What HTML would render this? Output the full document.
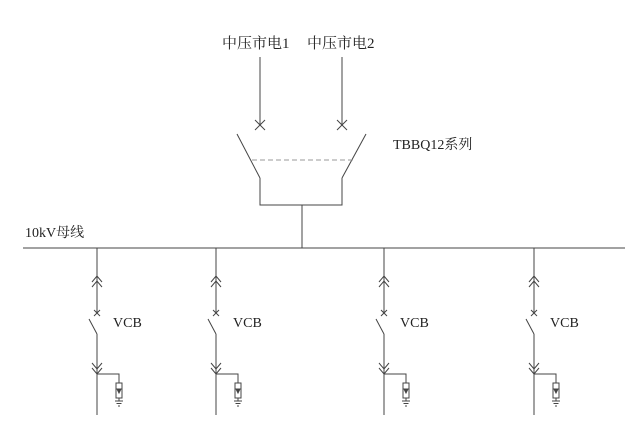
<!DOCTYPE html>
<html><head><meta charset="utf-8"><style>
html,body{margin:0;padding:0;background:#fff;width:640px;height:425px;overflow:hidden}
text{font-family:"Liberation Serif","Noto Serif CJK SC",serif;fill:#222}
</style></head><body>
<svg width="640" height="425" viewBox="0 0 640 425" xmlns="http://www.w3.org/2000/svg">
<defs>
<g id="f" stroke="#444" stroke-width="1" fill="none">
<line x1="0" y1="248" x2="0" y2="313"/>
<polyline points="-5,282 0,276 5,282"/>
<polyline points="-5,287 0,281 5,287"/>
<line x1="-3" y1="310" x2="3" y2="316"/>
<line x1="3" y1="310" x2="-3" y2="316"/>
<line x1="-8" y1="319" x2="0" y2="334"/>
<line x1="0" y1="334" x2="0" y2="415"/>
<polyline points="-5,363 0,369 5,363"/>
<polyline points="-5,368 0,374 5,368"/>
<polyline points="0,374 22,374 22,383"/>
<rect x="19" y="383" width="6" height="15"/>
<polygon points="20,389 24,389 22,393" fill="#444"/>
<line x1="22" y1="398" x2="22" y2="401"/>
<line x1="18" y1="401" x2="26" y2="401"/>
<line x1="19.5" y1="403.5" x2="24.5" y2="403.5"/>
<line x1="21" y1="406" x2="23" y2="406"/>
</g>
</defs>
<g stroke="#444" stroke-width="1" fill="none">
<line x1="23" y1="248" x2="625" y2="248"/>
<line x1="260" y1="57" x2="260" y2="125"/>
<line x1="342" y1="57" x2="342" y2="125"/>
<line x1="255" y1="120" x2="265" y2="130"/><line x1="265" y1="120" x2="255" y2="130"/>
<line x1="337" y1="120" x2="347" y2="130"/><line x1="347" y1="120" x2="337" y2="130"/>
<line x1="237" y1="134" x2="260" y2="178"/>
<line x1="366" y1="134" x2="342" y2="178"/>
<polyline points="260,178 260,205 342,205 342,178"/>
<line x1="302" y1="205" x2="302" y2="248"/>
<line x1="252" y1="160" x2="354" y2="160" stroke="#999" stroke-dasharray="5,3"/>
</g>
<use href="#f" x="97" y="0"/>
<use href="#f" x="216" y="0"/>
<use href="#f" x="384" y="0"/>
<use href="#f" x="534" y="0"/>
<text x="222" y="48" font-size="15">中压市电1</text>
<text x="307" y="48" font-size="15">中压市电2</text>
<text x="393" y="149" font-size="14">TBBQ12系列</text>
<text x="25" y="237" font-size="14">10kV母线</text>
<text x="113" y="327" font-size="14">VCB</text>
<text x="233" y="327" font-size="14">VCB</text>
<text x="400" y="327" font-size="14">VCB</text>
<text x="550" y="327" font-size="14">VCB</text>
</svg>
</body></html>
